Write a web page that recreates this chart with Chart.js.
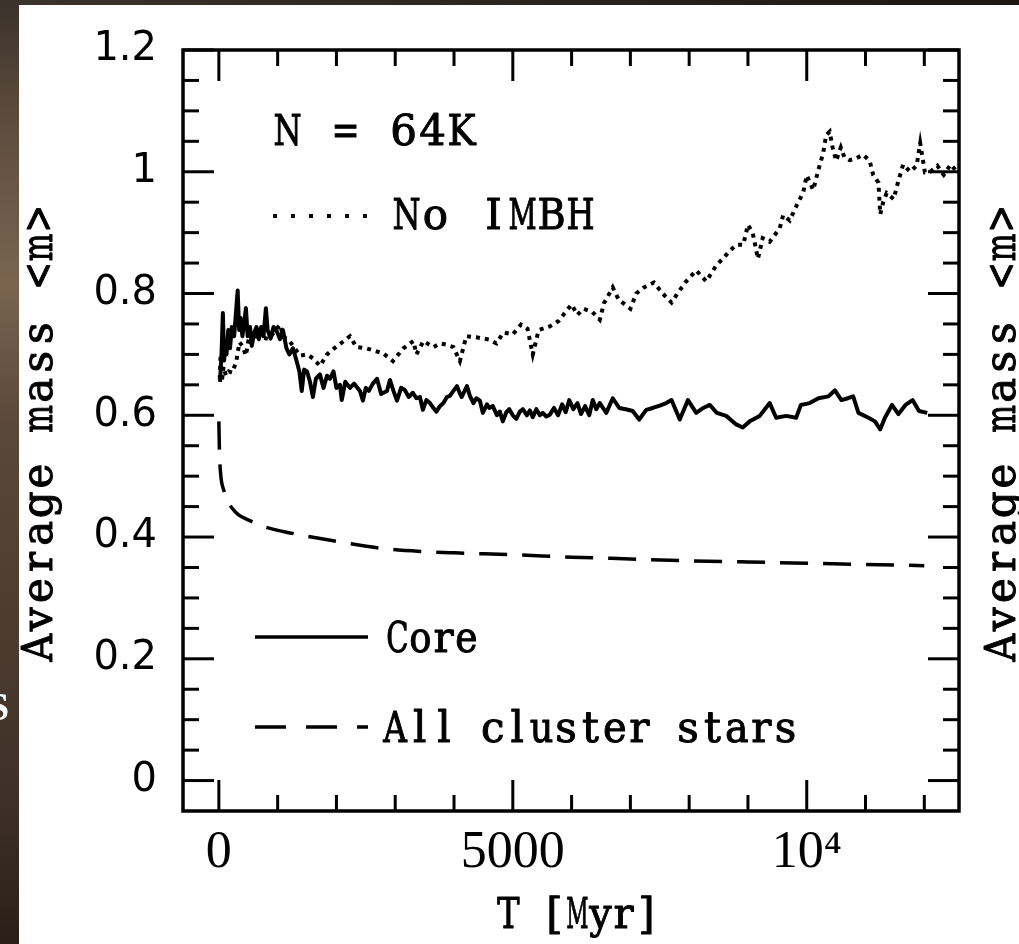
<!DOCTYPE html>
<html>
<head>
<meta charset="utf-8">
<script src="https://cdn.jsdelivr.net/npm/chart.js@4.4.0/dist/chart.umd.min.js"></script>
<style>
  html, body { margin: 0; padding: 0; background: #fff; }
  canvas { display: block; }
</style>
</head>
<body>
<canvas id="mass-chart" width="1019" height="944"></canvas>
<script>
// T in Myr, average mass <m>
const coreT = [
  20, 45, 68, 90, 110, 130, 160, 190, 220, 260,
  300, 320, 345, 370, 400, 430, 460, 490, 530, 560,
  600, 640, 680, 720, 760, 800, 830, 880, 930, 990,
  1040, 1090, 1150, 1200, 1260, 1320, 1370, 1410, 1450, 1500,
  1550, 1600, 1650, 1720, 1780, 1840, 1890, 1950, 2000, 2060,
  2090, 2150, 2230, 2300, 2400, 2450, 2500, 2550, 2620, 2690,
  2760, 2860, 2910, 2970, 3030, 3100, 3160, 3230, 3300, 3360,
  3420, 3470, 3530, 3590, 3650, 3700, 3760, 3820, 3880, 3930,
  3990, 4050, 4090, 4130, 4180, 4220, 4270, 4330, 4380, 4440,
  4490, 4560, 4600, 4660, 4730, 4780, 4830, 4890, 4940, 5000,
  5060, 5120, 5170, 5240, 5290, 5340, 5400, 5460, 5510, 5570,
  5630, 5700, 5770, 5840, 5900, 5960, 6030, 6100, 6160, 6230,
  6300, 6360, 6420, 6480, 6590, 6700, 6810, 6920, 7040, 7150,
  7270, 7380, 7500, 7610, 7700, 7840, 7980, 8120, 8240, 8350,
  8470, 8630, 8800, 8910, 9030, 9200, 9370, 9480, 9650, 9820,
  9900, 10050, 10200, 10370, 10480, 10590, 10700, 10790, 10880, 11050,
  11160, 11250, 11330, 11450, 11560, 11680, 11800, 11910, 12050
];
const coreM = [
  0.655, 0.70, 0.768, 0.69, 0.72, 0.70, 0.74, 0.71, 0.745, 0.73,
  0.78, 0.805, 0.74, 0.76, 0.73, 0.75, 0.776, 0.73, 0.745, 0.714,
  0.735, 0.745, 0.725, 0.745, 0.73, 0.776, 0.74, 0.726, 0.745, 0.737,
  0.725, 0.74, 0.71, 0.70, 0.71, 0.69, 0.672, 0.64, 0.675, 0.672,
  0.655, 0.63, 0.66, 0.667, 0.645, 0.665, 0.66, 0.672, 0.645, 0.65,
  0.625, 0.655, 0.645, 0.652, 0.64, 0.624, 0.645, 0.64, 0.652, 0.66,
  0.635, 0.64, 0.658, 0.64, 0.624, 0.645, 0.642, 0.63, 0.637, 0.628,
  0.63, 0.609, 0.625, 0.62, 0.612, 0.606, 0.615, 0.62, 0.63, 0.632,
  0.64, 0.648, 0.638, 0.63, 0.64, 0.648, 0.632, 0.62, 0.628, 0.624,
  0.604, 0.618, 0.612, 0.615, 0.60, 0.606, 0.59, 0.605, 0.61, 0.60,
  0.594, 0.606, 0.61, 0.60, 0.608, 0.597, 0.61, 0.60, 0.604, 0.598,
  0.601, 0.612, 0.60, 0.618, 0.605, 0.625, 0.61, 0.62, 0.602, 0.615,
  0.60, 0.625, 0.61, 0.62, 0.604, 0.628, 0.612, 0.61, 0.607, 0.593,
  0.609, 0.612, 0.616, 0.62, 0.625, 0.593, 0.625, 0.604, 0.612, 0.617,
  0.604, 0.599, 0.585, 0.58, 0.59, 0.599, 0.62, 0.596, 0.599, 0.596,
  0.617, 0.62, 0.628, 0.631, 0.641, 0.625, 0.628, 0.631, 0.604, 0.596,
  0.59, 0.577, 0.596, 0.617, 0.602, 0.617, 0.625, 0.607, 0.604
];

const noImbhT = [
  15, 30, 50, 80, 120, 170, 230, 300, 350, 400,
  460, 527, 600, 700, 780, 850, 950, 1040, 1100, 1180,
  1260, 1380, 1500, 1610, 1720, 1840, 1950, 2100, 2230, 2340,
  2510, 2680, 2790, 2960, 3140, 3310, 3360, 3480, 3650, 3760,
  3870, 3990, 4100, 4210, 4380, 4500, 4610, 4720, 4840, 5000,
  5140, 5250, 5340, 5440, 5630, 5780, 5900, 6000, 6100, 6200,
  6350, 6480, 6550, 6700, 6800, 7000, 7100, 7230, 7400, 7550,
  7700, 7800, 7950, 8120, 8290, 8460, 8570, 8690, 8800, 8920,
  9000, 9080, 9170, 9250, 9370, 9540, 9600, 9710, 9830, 9940,
  10000, 10110, 10200, 10280, 10330, 10390, 10440, 10500, 10580, 10640,
  10730, 10840, 10960, 11070, 11130, 11220, 11250, 11300, 11360, 11480,
  11530, 11640, 11760, 11870, 11930, 12010, 12100, 12220, 12330, 12450,
  12550
];
const noImbhM = [
  0.66, 0.70, 0.655, 0.68, 0.665, 0.672, 0.67, 0.69, 0.72, 0.714,
  0.698, 0.736, 0.73, 0.728, 0.727, 0.725, 0.738, 0.749, 0.728, 0.725,
  0.714, 0.698, 0.70, 0.693, 0.681, 0.70, 0.709, 0.72, 0.73, 0.712,
  0.71, 0.705, 0.702, 0.689, 0.71, 0.722, 0.70, 0.722, 0.712, 0.718,
  0.716, 0.712, 0.689, 0.73, 0.728, 0.726, 0.724, 0.718, 0.736, 0.733,
  0.749, 0.742, 0.70, 0.74, 0.746, 0.755, 0.77, 0.782, 0.765, 0.775,
  0.77, 0.757, 0.784, 0.81, 0.79, 0.775, 0.80, 0.81, 0.818, 0.80,
  0.785, 0.80, 0.82, 0.838, 0.82, 0.846, 0.857, 0.87, 0.88, 0.88,
  0.913, 0.90, 0.857, 0.891, 0.885, 0.907, 0.929, 0.92, 0.945, 0.966,
  0.994, 0.97, 1.004, 1.031, 1.06, 1.066, 1.04, 1.018, 1.04, 1.024,
  1.019, 1.022, 1.028, 1.018, 0.995, 0.982, 0.93, 0.95, 0.965, 0.955,
  0.975, 1.012, 1.0, 1.01, 1.047, 0.999, 1.0, 1.01, 0.995, 1.012,
  1.0
];

const allT = [0, 10, 34, 80, 136, 220, 330, 527, 800, 1250, 1700, 2300,
  2900, 3500, 4000, 5000, 6000, 7000, 8000, 9000, 10000, 11000, 12000];
const allM = [0.59, 0.54, 0.50, 0.478, 0.462, 0.448, 0.437, 0.427, 0.416, 0.406, 0.398, 0.388,
  0.38, 0.376, 0.374, 0.371, 0.367, 0.364, 0.361, 0.359, 0.357, 0.355, 0.353];

const xTicks = [0, 5000, 10000];
const xTickLabels = ["0", "5000", "10\u2074"];
const yTicks = [0, 0.2, 0.4, 0.6, 0.8, 1, 1.2];
const yTickLabels = ["0", "0.2", "0.4", "0.6", "0.8", "1", "1.2"];

const xMinor = [];
for (let t = 0; t <= 12000; t += 1000) xMinor.push(t);
const yMinor = [];
for (let i = 0; i <= 24; i++) yMinor.push(i * 0.05);

function toPoints(ts, ms) {
  return ts.map((t, i) => ({ x: t, y: ms[i] }));
}

// draws text with a fixed advance per character, like the typewriter font of the plot
function monoText(ctx, text, x, y, adv) {
  ctx.textAlign = "center";
  for (let i = 0; i < text.length; i++) {
    const ch = text[i];
    const w = ctx.measureText(ch).width || 1;
    const s = Math.min(1, (adv * 0.97) / w);
    ctx.save();
    ctx.translate(x + (i + 0.5) * adv, y);
    ctx.scale(s, 1);
    ctx.fillText(ch, 0, 0);
    ctx.strokeText(ch, 0, 0);
    ctx.restore();
  }
}

function line(ctx, x1, y1, x2, y2) {
  ctx.beginPath();
  ctx.moveTo(x1, y1);
  ctx.lineTo(x2, y2);
  ctx.stroke();
}

const decor = {
  id: "decor",
  beforeDraw(chart) {
    const ctx = chart.ctx;
    ctx.save();
    ctx.fillStyle = "#fff";
    ctx.fillRect(0, 0, chart.width, chart.height);
    // bits of the slide behind the figure
    const g = ctx.createLinearGradient(0, 0, 0, chart.height);
    g.addColorStop(0, "#3a322b");
    g.addColorStop(0.12, "#5c4b3d");
    g.addColorStop(0.3, "#7a6450");
    g.addColorStop(0.45, "#5a483a");
    g.addColorStop(0.65, "#4d3d31");
    g.addColorStop(0.85, "#3e3027");
    g.addColorStop(1, "#2a1f18");
    ctx.fillStyle = g;
    ctx.fillRect(0, 0, 19, chart.height);
    const gt = ctx.createLinearGradient(0, 0, chart.width, 0);
    gt.addColorStop(0, "#3b332c");
    gt.addColorStop(1, "#1a1714");
    ctx.fillStyle = gt;
    ctx.fillRect(0, 0, chart.width, 5);
    ctx.fillStyle = "#fff";
    ctx.font = 'bold 40px "Liberation Serif"';
    ctx.textBaseline = "alphabetic";
    ctx.textAlign = "left";
    ctx.fillText("S", -13, 720);
    ctx.restore();
  },
  afterDraw(chart) {
    const ctx = chart.ctx;
    const a = chart.chartArea;
    const xs = chart.scales.x;
    const ys = chart.scales.y;
    ctx.save();
    ctx.strokeStyle = "#000";
    ctx.lineWidth = 3;
    ctx.lineCap = "butt";
    xMinor.forEach((t) => {
      const px = xs.getPixelForValue(t);
      const len = xTicks.includes(t) ? 31 : 16;
      line(ctx, px, a.bottom, px, a.bottom - len);
      line(ctx, px, a.top, px, a.top + len);
    });
    yMinor.forEach((v) => {
      const py = ys.getPixelForValue(v);
      const major = Math.abs(v * 5 - Math.round(v * 5)) < 1e-6;
      const len = major ? 31 : 16;
      line(ctx, a.left, py, a.left + len, py);
      line(ctx, a.right, py, a.right - len, py);
    });
    ctx.lineWidth = 3.5;
    ctx.strokeRect(a.left, a.top, a.right - a.left, a.bottom - a.top);

    // legend keys
    ctx.lineWidth = 3.5;
    line(ctx, 255, 637, 368, 637);
    ctx.setLineDash([31, 20]);
    line(ctx, 255, 727, 368, 727);
    ctx.setLineDash([4, 14]);
    ctx.lineWidth = 4;
    line(ctx, 273, 216, 372, 216);
    ctx.setLineDash([]);

    ctx.fillStyle = "#000";
    ctx.font = '42px "DejaVu Serif"';
    ctx.lineWidth = 1;
    ctx.lineJoin = "round";
    ctx.textBaseline = "alphabetic";
    monoText(ctx, "N = 64K", 273, 145, 29);
    monoText(ctx, "No IMBH", 392, 229, 29);
    monoText(ctx, "Core", 386, 652, 23);
    monoText(ctx, "All cluster stars", 383, 742, 24.4);
    monoText(ctx, "T [Myr]", 497, 928, 23);

    // y titles, both reading upwards
    ctx.save();
    ctx.translate(52, 662);
    ctx.rotate(-Math.PI / 2);
    monoText(ctx, "Average mass <m>", 0, 0, 28.6);
    ctx.restore();
    ctx.save();
    ctx.translate(1015, 662);
    ctx.rotate(-Math.PI / 2);
    monoText(ctx, "Average mass <m>", 0, 0, 28.6);
    ctx.restore();
    ctx.restore();
  },
};

new Chart(document.getElementById("mass-chart"), {
  type: "line",
  data: {
    datasets: [
      {
        label: "Core",
        data: toPoints(coreT, coreM),
        borderColor: "#000",
        borderWidth: 4,
        borderJoinStyle: "round",
        pointRadius: 0,
      },
      {
        label: "No IMBH",
        data: toPoints(noImbhT, noImbhM),
        borderColor: "#000",
        borderWidth: 4,
        borderDash: [4, 5],
        pointRadius: 0,
      },
      {
        label: "All cluster stars",
        data: toPoints(allT, allM),
        borderColor: "#000",
        borderWidth: 3.5,
        borderDash: [28, 15],
        cubicInterpolationMode: "monotone",
        pointRadius: 0,
      },
    ],
  },
  options: {
    responsive: false,
    animation: false,
    devicePixelRatio: 1,
    events: [],
    layout: { padding: { top: 35, right: 60, left: 0, bottom: 0 } },
    plugins: { legend: { display: false }, tooltip: { enabled: false } },
    scales: {
      x: {
        type: "linear",
        min: -610,
        max: 12590,
        grid: { display: false, drawTicks: false },
        border: { display: false },
        afterBuildTicks: (scale) => {
          scale.ticks = xTicks.map((v) => ({ value: v }));
        },
        afterFit: (scale) => {
          scale.height = 133;
        },
        ticks: {
          color: "#000",
          padding: 16,
          maxRotation: 0,
          autoSkip: false,
          font: { family: "Liberation Serif", size: 52, lineHeight: 1 },
          callback: (v) => xTickLabels[xTicks.indexOf(v)],
        },
      },
      y: {
        type: "linear",
        min: -0.05,
        max: 1.2,
        grid: { display: false, drawTicks: false },
        border: { display: false },
        afterBuildTicks: (scale) => {
          scale.ticks = yTicks.map((v) => ({ value: v }));
        },
        afterFit: (scale) => {
          scale.width = 183;
        },
        ticks: {
          color: "#000",
          padding: 26,
          font: { family: "DejaVu Sans", size: 40 },
          callback: (v) => yTickLabels[yTicks.indexOf(v)],
        },
      },
    },
  },
  plugins: [decor],
});
</script>
</body>
</html>
